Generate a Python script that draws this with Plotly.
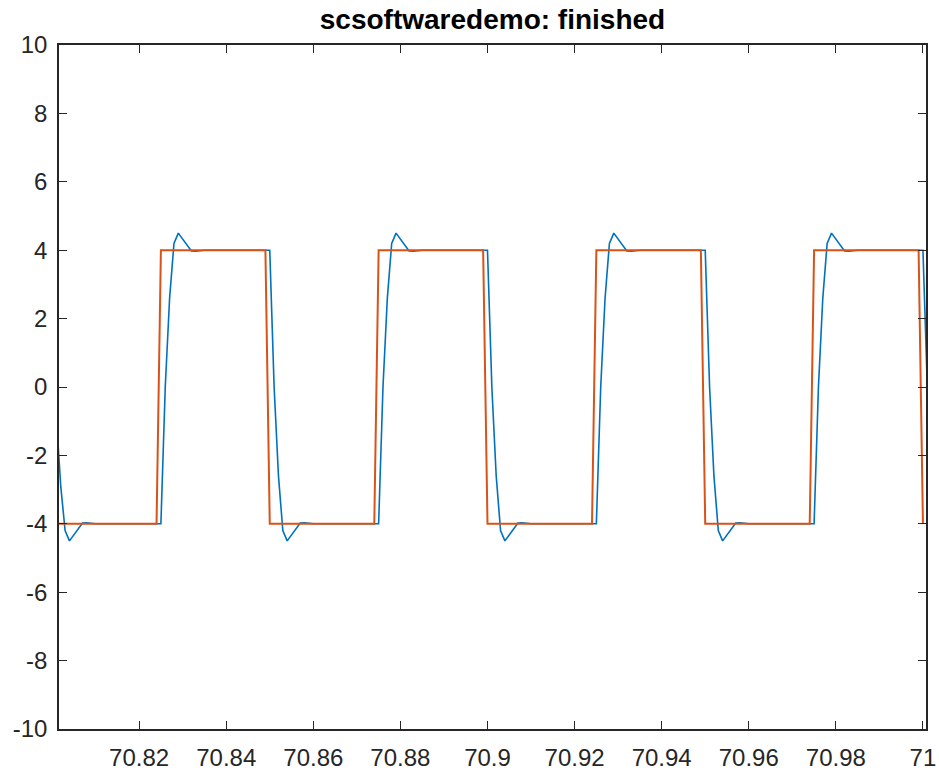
import plotly.graph_objects as go

# reference square wave (orange), corners only
ref_t = [70.800, 70.824, 70.825, 70.849, 70.850, 70.874, 70.875, 70.899,
         70.900, 70.924, 70.925, 70.949, 70.950, 70.974, 70.975, 70.999, 71.000]
ref_y = [-4, -4, 4, 4, -4, -4, 4, 4, -4, -4, 4, 4, -4, -4, 4, 4, -4]

# filtered output (blue), read around each edge
out_t = [
    70.800, 70.801, 70.802, 70.803, 70.804, 70.805, 70.806, 70.807, 70.808, 70.809, 70.810,
    70.825, 70.826, 70.827, 70.828, 70.829, 70.830, 70.831, 70.832, 70.833, 70.834, 70.835,
    70.850, 70.851, 70.852, 70.853, 70.854, 70.855, 70.856, 70.857, 70.858, 70.859, 70.860,
    70.875, 70.876, 70.877, 70.878, 70.879, 70.880, 70.881, 70.882, 70.883, 70.884, 70.885,
    70.900, 70.901, 70.902, 70.903, 70.904, 70.905, 70.906, 70.907, 70.908, 70.909, 70.910,
    70.925, 70.926, 70.927, 70.928, 70.929, 70.930, 70.931, 70.932, 70.933, 70.934, 70.935,
    70.950, 70.951, 70.952, 70.953, 70.954, 70.955, 70.956, 70.957, 70.958, 70.959, 70.960,
    70.975, 70.976, 70.977, 70.978, 70.979, 70.980, 70.981, 70.982, 70.983, 70.984, 70.985,
    71.000, 71.001,
]
out_y = [
    4, -0.9, -2.9, -4.2, -4.5, -4.33, -4.15, -3.98, -3.97, -3.98, -4,
    -4, 0, 2.6, 4.2, 4.5, 4.33, 4.15, 3.98, 3.97, 3.98, 4,
    4, 0, -2.6, -4.2, -4.5, -4.33, -4.15, -3.98, -3.97, -3.98, -4,
    -4, 0, 2.6, 4.2, 4.5, 4.33, 4.15, 3.98, 3.97, 3.98, 4,
    4, 0, -2.6, -4.2, -4.5, -4.33, -4.15, -3.98, -3.97, -3.98, -4,
    -4, 0, 2.6, 4.2, 4.5, 4.33, 4.15, 3.98, 3.97, 3.98, 4,
    4, 0, -2.6, -4.2, -4.5, -4.33, -4.15, -3.98, -3.97, -3.98, -4,
    -4, 0, 2.6, 4.2, 4.5, 4.33, 4.15, 3.98, 3.97, 3.98, 4,
    4, 0,
]

x_ticks = [70.82, 70.84, 70.86, 70.88, 70.9, 70.92, 70.94, 70.96, 70.98, 71]
x_labels = ['70.82', '70.84', '70.86', '70.88', '70.9', '70.92', '70.94', '70.96', '70.98', '71']
y_ticks = [-10, -8, -6, -4, -2, 0, 2, 4, 6, 8, 10]
y_labels = ['-10', '-8', '-6', '-4', '-2', '0', '2', '4', '6', '8', '10']

ink = '#262626'

fig = go.Figure()
fig.add_trace(go.Scatter(x=out_t, y=out_y, mode='lines',
                         line=dict(color='#0072BD', width=1.6)))
fig.add_trace(go.Scatter(x=ref_t, y=ref_y, mode='lines',
                         line=dict(color='#D95319', width=2)))

axis = dict(showgrid=False, zeroline=False, showline=True, linecolor=ink,
            linewidth=1.5, mirror='ticks', ticks='inside', ticklen=8,
            tickwidth=1.3, tickcolor=ink, automargin=False)

fig.update_layout(
    width=939, height=775,
    margin=dict(l=59, r=13, t=45, b=46),
    paper_bgcolor='white', plot_bgcolor='white',
    showlegend=False,
    font=dict(family='Liberation Sans, Arial, sans-serif', size=24, color=ink),
    title=dict(text='<b>scsoftwaredemo: finished</b>', x=0.5, xref='paper',
               y=1 - 19 / 775, yref='container', yanchor='middle',
               font=dict(size=28, color='black')),
    xaxis=dict(range=[70.8016, 71.0007], tickvals=x_ticks, ticktext=x_labels,
               ticklabelstandoff=6, **axis),
    yaxis=dict(range=[-10, 10], tickvals=y_ticks, ticktext=y_labels,
               ticklabelstandoff=5, **axis),
)

# drop the page's default body margin so the figure sits at the window corner
fig.write_html("out.html", config={'displayModeBar': False},
               post_script="document.body.style.margin='0';document.body.style.overflow='hidden';")
